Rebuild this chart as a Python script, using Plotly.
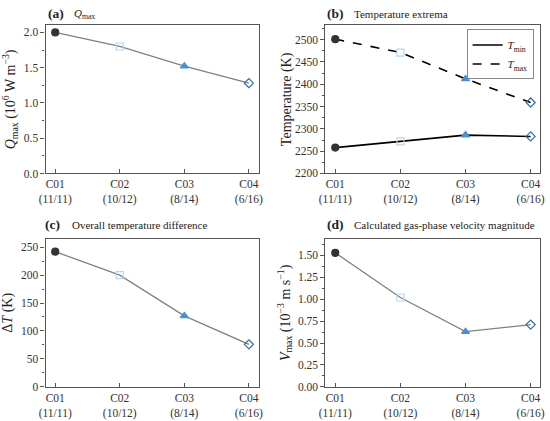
import plotly.graph_objects as go

cases = ["C01<br>(11/11)", "C02<br>(10/12)", "C03<br>(8/14)", "C04<br>(6/16)"]
xpos = [0, 1, 2, 3]
q_max = [2.00, 1.80, 1.52, 1.28]
t_min = [2258, 2272, 2286, 2283]
t_max = [2501, 2471, 2412, 2359]
delta_t = [242, 200, 127, 76]
v_max = [1.53, 1.02, 0.63, 0.71]

symbols = ["circle", "square-open", "triangle-up", "diamond-open"]
mcolors = ["#333333", "#b9d6ee", "#4a8fd6", "#2f6db0"]

FONT = "Liberation Serif"
fig = go.Figure()

def markers(xa, ya, vals):
    fig.add_trace(go.Scatter(x=xpos, y=vals, mode="markers", xaxis=xa, yaxis=ya,
                             showlegend=False,
                             marker=dict(symbol=symbols, color=mcolors, size=7,
                                         line=dict(color=mcolors, width=1.2))))

# (a)
fig.add_trace(go.Scatter(x=xpos, y=q_max, mode="lines", xaxis="x", yaxis="y",
                         showlegend=False, line=dict(color="#808080", width=1.3)))
markers("x", "y", q_max)
# (b)
fig.add_trace(go.Scatter(x=xpos, y=t_min, mode="lines", xaxis="x2", yaxis="y2",
                         name="<i>T</i><sub>min</sub>", line=dict(color="black", width=1.6)))
fig.add_trace(go.Scatter(x=xpos, y=t_max, mode="lines", xaxis="x2", yaxis="y2",
                         name="<i>T</i><sub>max</sub>", line=dict(color="black", width=1.6, dash="dash")))
markers("x2", "y2", t_min)
markers("x2", "y2", t_max)
# (c)
fig.add_trace(go.Scatter(x=xpos, y=delta_t, mode="lines", xaxis="x3", yaxis="y3",
                         showlegend=False, line=dict(color="#808080", width=1.3)))
markers("x3", "y3", delta_t)
# (d)
fig.add_trace(go.Scatter(x=xpos, y=v_max, mode="lines", xaxis="x4", yaxis="y4",
                         showlegend=False, line=dict(color="#808080", width=1.3)))
markers("x4", "y4", v_max)

axcol = "#555555"
def xaxis(domain, anchor):
    return dict(domain=domain, anchor=anchor, range=[-0.15, 3.15], tickvals=xpos,
                ticktext=cases, ticks="inside", ticklen=4, tickcolor=axcol,
                showline=True, linecolor=axcol, linewidth=1.2, mirror=True,
                showgrid=False, zeroline=False,
                tickfont=dict(family=FONT, size=11.5, color="#333333"))

def yaxis(domain, anchor, rng, dtick, fmt, title, standoff=4):
    return dict(domain=domain, anchor=anchor, range=rng, dtick=dtick, tick0=0,
                tickformat=fmt, ticks="outside", ticklen=4, tickcolor=axcol,
                minor=dict(dtick=dtick / 2, ticks="outside", ticklen=2.5, tickcolor=axcol),
                showline=True, linecolor=axcol, linewidth=1.2, mirror=True,
                showgrid=False, zeroline=False,
                tickfont=dict(family=FONT, size=11.5, color="#333333"),
                title=dict(text=title, font=dict(family=FONT, size=14, color="#222222"), standoff=standoff))

top_dom = [0.582, 0.939]
bot_dom = [0.068, 0.4245]
left_dom = [0.0715, 0.4667]
right_dom = [0.5909, 0.9896]

fig.update_layout(
    width=550, height=421, margin=dict(l=0, r=0, t=0, b=0),
    paper_bgcolor="white", plot_bgcolor="white",
    font=dict(family=FONT, color="#222222"),
    xaxis=xaxis(left_dom, "y"),
    yaxis=yaxis(top_dom, "x", [0, 2.1], 0.5, ".1f",
                "<i>Q</i><sub>max</sub> (10<sup>6</sup> W m<sup>−3</sup>)"),
    xaxis2=xaxis(right_dom, "y2"),
    yaxis2=yaxis(top_dom, "x2", [2200, 2532], 50, "d", "Temperature (K)", standoff=0),
    xaxis3=xaxis(left_dom, "y3"),
    yaxis3=yaxis(bot_dom, "x3", [0, 265], 50, "d", "Δ<i>T</i> (K)"),
    xaxis4=xaxis(right_dom, "y4"),
    yaxis4=yaxis(bot_dom, "x4", [0, 1.69], 0.25, ".2f",
                 "<i>V</i><sub>max</sub> (10<sup>−3</sup> m s<sup>−1</sup>)"),
    legend=dict(x=0.977, y=0.929, xanchor="right", yanchor="top",
                bgcolor="white", bordercolor="#888888", borderwidth=1,
                font=dict(family=FONT, size=11, color="#222222"),
                tracegroupgap=0, itemwidth=30),
)

titles = [
    (0.0715, 14, "(a)", "<i>Q</i><sub>max</sub>"),
    (0.5909, 14, "(b)", "Temperature extrema"),
    (0.066, 228, "(c)", "Overall temperature difference"),
    (0.5909, 228, "(d)", "Calculated gas-phase velocity magnitude"),
]
for x, ypx, lab, txt in titles:
    yp = 1 - ypx / 421
    fig.add_annotation(x=x, y=yp, xref="paper", yref="paper", xanchor="left", yanchor="middle",
                       text="<b>" + lab + "</b>", showarrow=False,
                       font=dict(family=FONT, size=13.5, color="#222222"))
    fig.add_annotation(x=x + 0.05, y=yp, xref="paper", yref="paper", xanchor="left", yanchor="middle",
                       text=txt, showarrow=False,
                       font=dict(family=FONT, size=11, color="#222222"))

fig.write_html("out.html", config={"displayModeBar": False},
               post_script="document.body.style.margin='0';document.body.style.overflow='hidden';")
